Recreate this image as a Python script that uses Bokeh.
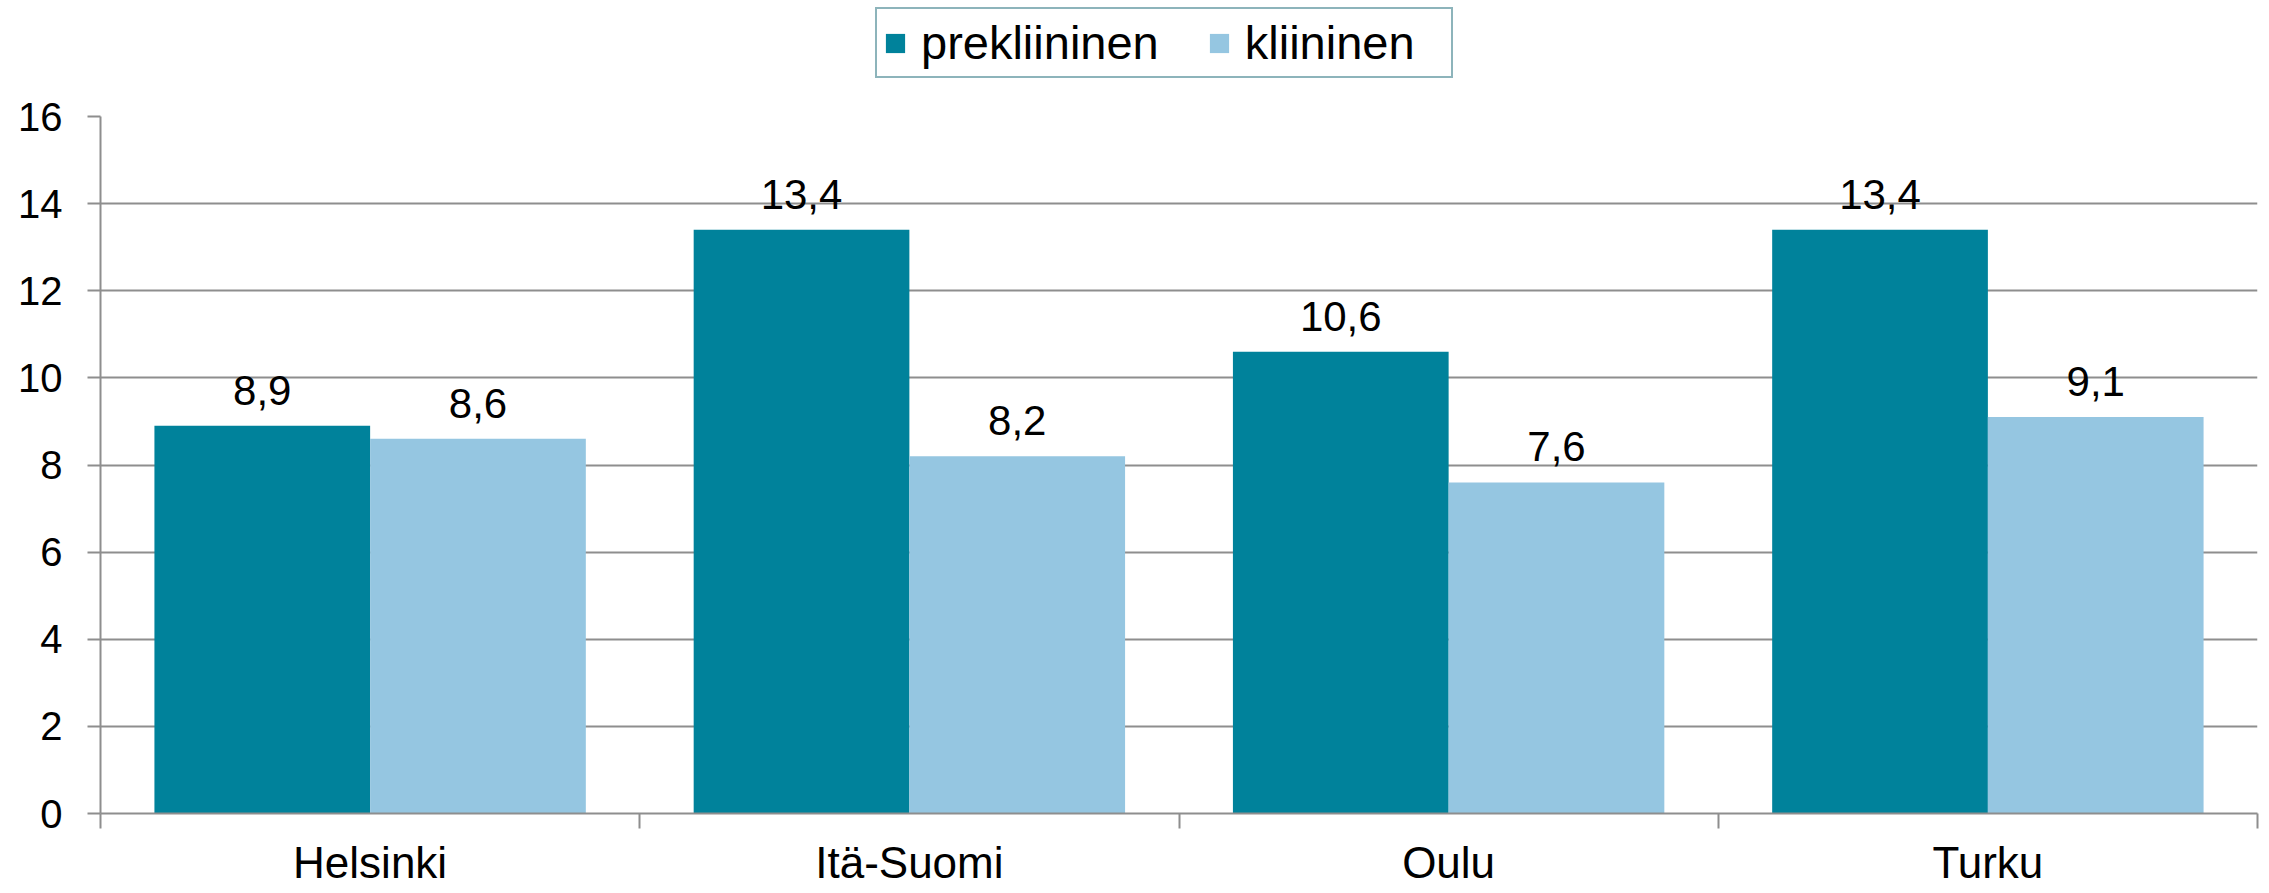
from bokeh.plotting import figure
from bokeh.layouts import column
from bokeh.models import (Range1d, FixedTicker, ColumnDataSource, LabelSet, Legend, LegendItem)
from bokeh.core.properties import value
from bokeh.embed import file_html
from bokeh.resources import INLINE

categories = ["Helsinki", "Itä-Suomi", "Oulu", "Turku"]
series_names = ["prekliininen", "kliininen"]
prekliininen = [8.9, 13.4, 10.6, 13.4]
kliininen = [8.6, 8.2, 7.6, 9.1]
y_ticks = [0, 2, 4, 6, 8, 10, 12, 14, 16]

DARK = "#00829B"
LIGHT = "#95C6E1"
GRID = "#8E8E8E"
FONT = "Liberation Sans"

W = 2269
H_LEG = 86
H_MAIN = 803

# ---------- legend strip ----------
lg = figure(width=W, height=H_LEG, output_backend="svg", toolbar_location=None,
            x_range=Range1d(0, 1), y_range=Range1d(0, 1),
            x_axis_type=None, y_axis_type=None,
            min_border_left=0, min_border_right=0, min_border_top=0, min_border_bottom=0)
lg.outline_line_color = None
lg.xgrid.visible = False
lg.ygrid.visible = False
# proxy renderers (outside the visible range) that only feed the legend swatches
d1 = lg.vbar(x=[-prekliininen[0]], top=[-prekliininen[0]], bottom=[-prekliininen[0] - 1],
             width=0.1, fill_color=DARK, line_color=None)
d2 = lg.vbar(x=[-kliininen[0]], top=[-kliininen[0]], bottom=[-kliininen[0] - 1],
             width=0.1, fill_color=LIGHT, line_color=None)
legend = Legend(items=[LegendItem(label=series_names[0], renderers=[d1]),
                       LegendItem(label=series_names[1], renderers=[d2])],
                orientation="horizontal", location=(775, 8),
                glyph_width=24, glyph_height=24, label_standoff=14, spacing=48,
                padding=6, margin=0, label_width=200,
                label_text_font=FONT, label_text_font_size="47px", label_text_color="black",
                border_line_color="#1B6A78", border_line_width=2.5,
                background_fill_color="white", background_fill_alpha=1.0)
lg.add_layout(legend, "center")

# ---------- main chart ----------
p = figure(width=W, height=H_MAIN, output_backend="svg", toolbar_location=None,
           x_range=Range1d(0, len(categories)), y_range=Range1d(0, 16),
           min_border_left=100, min_border_right=12, min_border_top=30, min_border_bottom=74)
p.outline_line_color = None
p.background_fill_color = "white"
p.border_fill_color = "white"

idx = list(range(len(categories)))
src1 = ColumnDataSource(dict(x=[i + 0.3 for i in idx], y=prekliininen,
                             lab=[f"{v:.1f}".replace(".", ",") for v in prekliininen]))
src2 = ColumnDataSource(dict(x=[i + 0.7 for i in idx], y=kliininen,
                             lab=[f"{v:.1f}".replace(".", ",") for v in kliininen]))

p.vbar(x="x", top="y", bottom=0, width=0.4, source=src1, fill_color=DARK, line_color=None)
p.vbar(x="x", top="y", bottom=0, width=0.4, source=src2, fill_color=LIGHT, line_color=None)

for s in (src1, src2):
    p.add_layout(LabelSet(x="x", y="y", text="lab", source=s, text_align="center",
                          text_baseline="alphabetic", y_offset=21,
                          text_font=value(FONT), text_font_size="42px", text_color="black"))

# x axis: labels at centres, ticks at boundaries (minor ticks)
xa = p.xaxis[0]
xa.ticker = FixedTicker(ticks=[i + 0.5 for i in idx], minor_ticks=list(range(len(categories) + 1)))
xa.major_label_overrides = {i + 0.5: c for i, c in zip(idx, categories)}
xa.major_tick_out = 0
xa.major_tick_in = 0
xa.minor_tick_out = 15
xa.minor_tick_in = 0
xa.minor_tick_line_color = GRID
xa.minor_tick_line_width = 2
xa.axis_line_color = GRID
xa.axis_line_width = 2
xa.major_label_standoff = 9
xa.major_label_text_font = FONT
xa.major_label_text_font_size = "44px"
xa.major_label_text_color = "black"

ya = p.yaxis[0]
ya.ticker = FixedTicker(ticks=y_ticks, minor_ticks=[])
ya.major_tick_out = 13
ya.major_tick_in = 0
ya.major_tick_line_color = GRID
ya.major_tick_line_width = 2
ya.axis_line_color = GRID
ya.axis_line_width = 2
ya.major_label_standoff = 25
ya.major_label_text_font = FONT
ya.major_label_text_font_size = "40px"
ya.major_label_text_color = "black"

p.xgrid.visible = False
p.ygrid.ticker = FixedTicker(ticks=y_ticks)
p.ygrid.grid_line_color = GRID
p.ygrid.grid_line_width = 2

layout = column(lg, p, spacing=0)
open("out.html", "w").write(file_html(layout, INLINE))
